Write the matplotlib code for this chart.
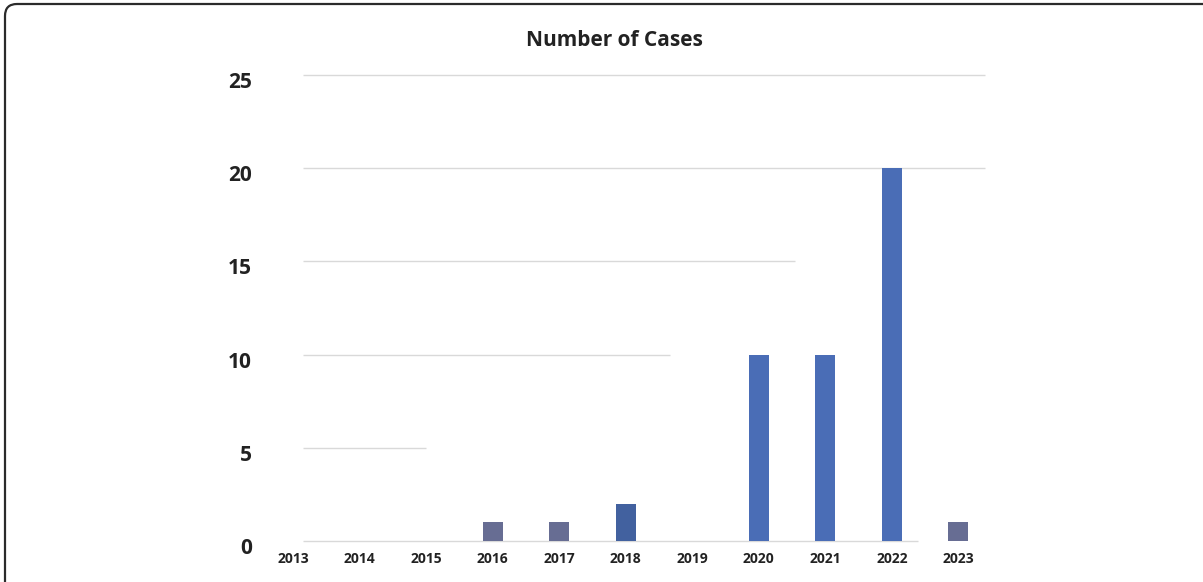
import matplotlib.pyplot as plt
from matplotlib.patches import FancyBboxPatch
from matplotlib.transforms import IdentityTransform, ScaledTranslation

years = ['2013', '2014', '2015', '2016', '2017', '2018',
         '2019', '2020', '2021', '2022', '2023']
cases = [0, 0, 0, 1, 1, 2, 0, 10, 10, 20, 1]
bar_colors = ['#4b6db5', '#4b6db5', '#4b6db5', '#676d93', '#676d93', '#42619f',
              '#4b6db5', '#4a6db6', '#4a6db6', '#4a6db6', '#676d93']
y_ticks = [0, 5, 10, 15, 20, 25]
# how far each horizontal guide line reaches (in category units)
grid_ends = [9.4, 2.0, 5.67, 7.55, 10.4, 10.4]

plt.rcParams['font.family'] = ['Open Sans', 'DejaVu Sans']

fig = plt.figure(figsize=(12.03, 5.82), dpi=100)
W, H = 1203, 582

# rounded frame, open at the right and bottom edges of the image
frame = FancyBboxPatch((5, -20), W + 20, H - 4 + 20,
                       boxstyle='round,pad=0,rounding_size=12',
                       transform=IdentityTransform(), fill=False,
                       edgecolor='#2b2b2b', linewidth=1.6, clip_on=False)
fig.patches.append(frame)

ax = fig.add_axes([260 / W, 41 / H, (985 - 260) / W, (541 - 75) / H])
ax.set_xlim(-0.5, 10.4)
ax.set_ylim(0, 25)

for t, end in zip(y_ticks, grid_ends):
    ax.hlines(t, 0.15, end, color='#d9d9d9', linewidth=1.0, zorder=0, clip_on=False)

x = list(range(len(years)))
ax.bar(x, cases, width=0.3, color=bar_colors, zorder=2)

ax.set_xticks(x)
ax.set_xticklabels(years, fontsize=10, fontweight='bold', color='#222222')
ax.set_yticks(y_ticks)
ax.set_yticklabels([str(t) for t in y_ticks], fontsize=15, fontweight='bold', color='#222222')
ax.tick_params(axis='x', length=0, pad=8)
ax.tick_params(axis='y', length=0, pad=6)
# y labels sit a little below their guide lines
shift = ScaledTranslation(0, -0.05, fig.dpi_scale_trans)
for lbl in ax.get_yticklabels():
    lbl.set_transform(lbl.get_transform() + shift)
for s in ax.spines.values():
    s.set_visible(False)

fig.text(614 / W, 1 - 40 / H, 'Number of Cases', ha='center', va='center',
         fontsize=15, fontweight='bold', color='#222222')

fig.savefig('out.png', dpi=100)
